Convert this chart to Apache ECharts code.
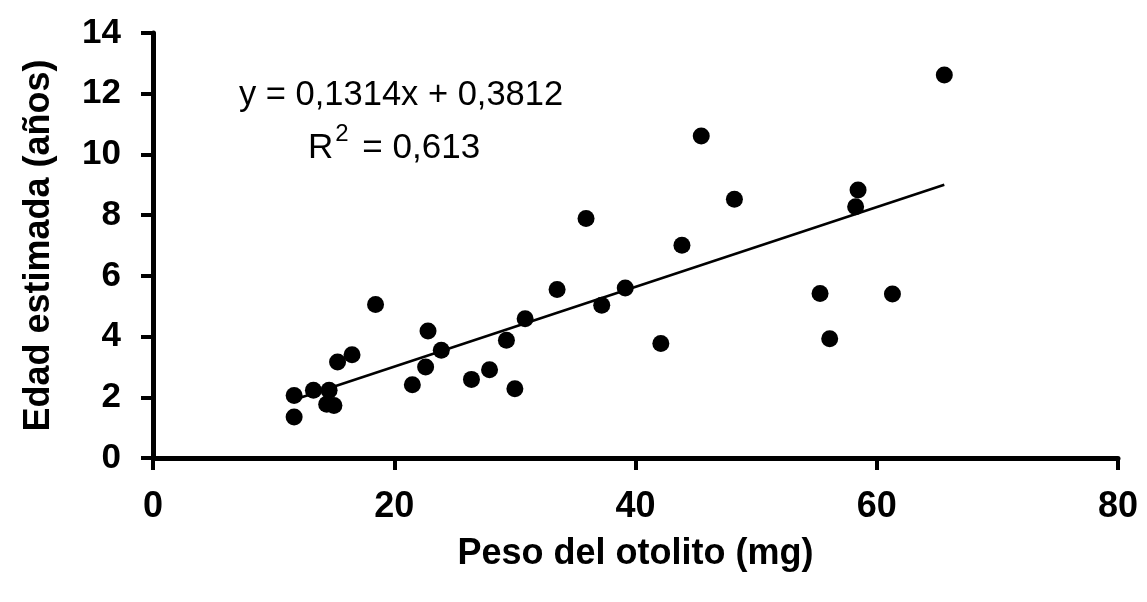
<!DOCTYPE html>
<html>
<head>
<meta charset="utf-8">
<title>Edad estimada vs peso del otolito</title>
<script src="https://cdn.jsdelivr.net/npm/echarts@6/dist/echarts.min.js"></script>
<style>
  html, body { margin: 0; padding: 0; background: #fff; }
  #chart { width: 1147px; height: 602px; }
</style>
</head>
<body>
<div id="chart"></div>
<script>
// Otolith weight (mg) and estimated age (years) for each fish
const pesoOtolito = [11.7, 11.7, 13.3, 14.6, 14.4, 15.0, 15.3, 16.5, 18.45, 21.5, 22.8, 22.6, 23.9, 26.4, 27.9, 29.3, 30.0, 30.85, 33.5, 35.9, 37.2, 39.15, 42.1, 43.85, 45.45, 48.2, 55.3, 56.1, 58.45, 58.25, 61.3, 65.6];
const edadEstimada = [2.06, 1.35, 2.23, 2.23, 1.77, 1.73, 3.16, 3.4, 5.06, 2.41, 4.18, 3.0, 3.55, 2.59, 2.91, 3.88, 2.28, 4.59, 5.55, 7.89, 5.03, 5.6, 3.77, 7.01, 10.61, 8.52, 5.42, 3.93, 8.83, 8.28, 5.4, 12.62];

// Linear fit reported on the chart
const pendiente = 0.1314;
const intercepto = 0.3812;
const r2 = 0.613;

// Axis ticks
const xTicks = [0, 20, 40, 60, 80];
const yTicks = [0, 2, 4, 6, 8, 10, 12, 14];

const fmt = v => String(v).replace('.', ',');
const puntos = pesoOtolito.map((x, i) => [x, edadEstimada[i]]);
const xMin = Math.min(...pesoOtolito);
const xMax = Math.max(...pesoOtolito);
const tendencia = [xMin, xMax].map(x => [x, pendiente * x + intercepto]);

const chart = echarts.init(document.getElementById('chart'), null, { renderer: 'canvas' });
const axisFont = 'Liberation Sans, Arial, sans-serif';

chart.setOption({
  backgroundColor: '#ffffff',
  animation: false,
  grid: { left: 153, right: 29, top: 33, bottom: 144, containLabel: false, outerBoundsMode: 'none' },
  xAxis: {
    type: 'value',
    min: xTicks[0],
    max: xTicks[xTicks.length - 1],
    interval: xTicks[1] - xTicks[0],
    name: 'Peso del otolito (mg)',
    nameLocation: 'middle',
    nameGap: 78,
    nameTextStyle: { fontFamily: axisFont, fontWeight: 'bold', fontSize: 36, color: '#000' },
    axisLine: { show: true, lineStyle: { color: '#000', width: 5 } },
    axisTick: { show: true, inside: false, length: 12, lineStyle: { color: '#000', width: 4 } },
    axisLabel: { margin: 31, fontFamily: axisFont, fontWeight: 'bold', fontSize: 36, color: '#000' },
    splitLine: { show: false }
  },
  yAxis: {
    type: 'value',
    min: yTicks[0],
    max: yTicks[yTicks.length - 1],
    interval: yTicks[1] - yTicks[0],
    name: 'Edad estimada (años)',
    nameLocation: 'middle',
    nameGap: 96,
    nameTextStyle: { fontFamily: axisFont, fontWeight: 'bold', fontSize: 36, color: '#000' },
    axisLine: { show: true, lineStyle: { color: '#000', width: 5 } },
    axisTick: { show: true, inside: false, length: 12, lineStyle: { color: '#000', width: 4 } },
    axisLabel: { margin: 32, fontFamily: axisFont, fontWeight: 'bold', fontSize: 35, color: '#000' },
    splitLine: { show: false }
  },
  series: [
    {
      name: 'Tendencia',
      type: 'line',
      data: tendencia,
      symbol: 'none',
      lineStyle: { color: '#000', width: 2.5 },
      z: 2
    },
    {
      name: 'Observaciones',
      type: 'scatter',
      data: puntos,
      symbol: 'circle',
      symbolSize: 17,
      itemStyle: { color: '#000', opacity: 1 },
      z: 3
    }
  ],
  graphic: [
    {
      type: 'text',
      left: 239,
      top: 78,
      style: {
        text: 'y = ' + fmt(pendiente) + 'x + ' + fmt(intercepto),
        fontFamily: axisFont,
        fontSize: 34.5,
        fill: '#000'
      }
    },
    {
      type: 'text',
      left: 308,
      top: 122,
      style: {
        text: '{b|R}{s|2}{b| = ' + fmt(r2) + '}',
        fontFamily: axisFont,
        fill: '#000',
        rich: {
          b: { fontFamily: axisFont, fontSize: 35, lineHeight: 44, verticalAlign: 'bottom', fill: '#000' },
          s: { fontFamily: axisFont, fontSize: 24, lineHeight: 44, verticalAlign: 'top', padding: [0, 4, 0, 2], fill: '#000' }
        }
      }
    }
  ]
});
</script>
</body>
</html>
